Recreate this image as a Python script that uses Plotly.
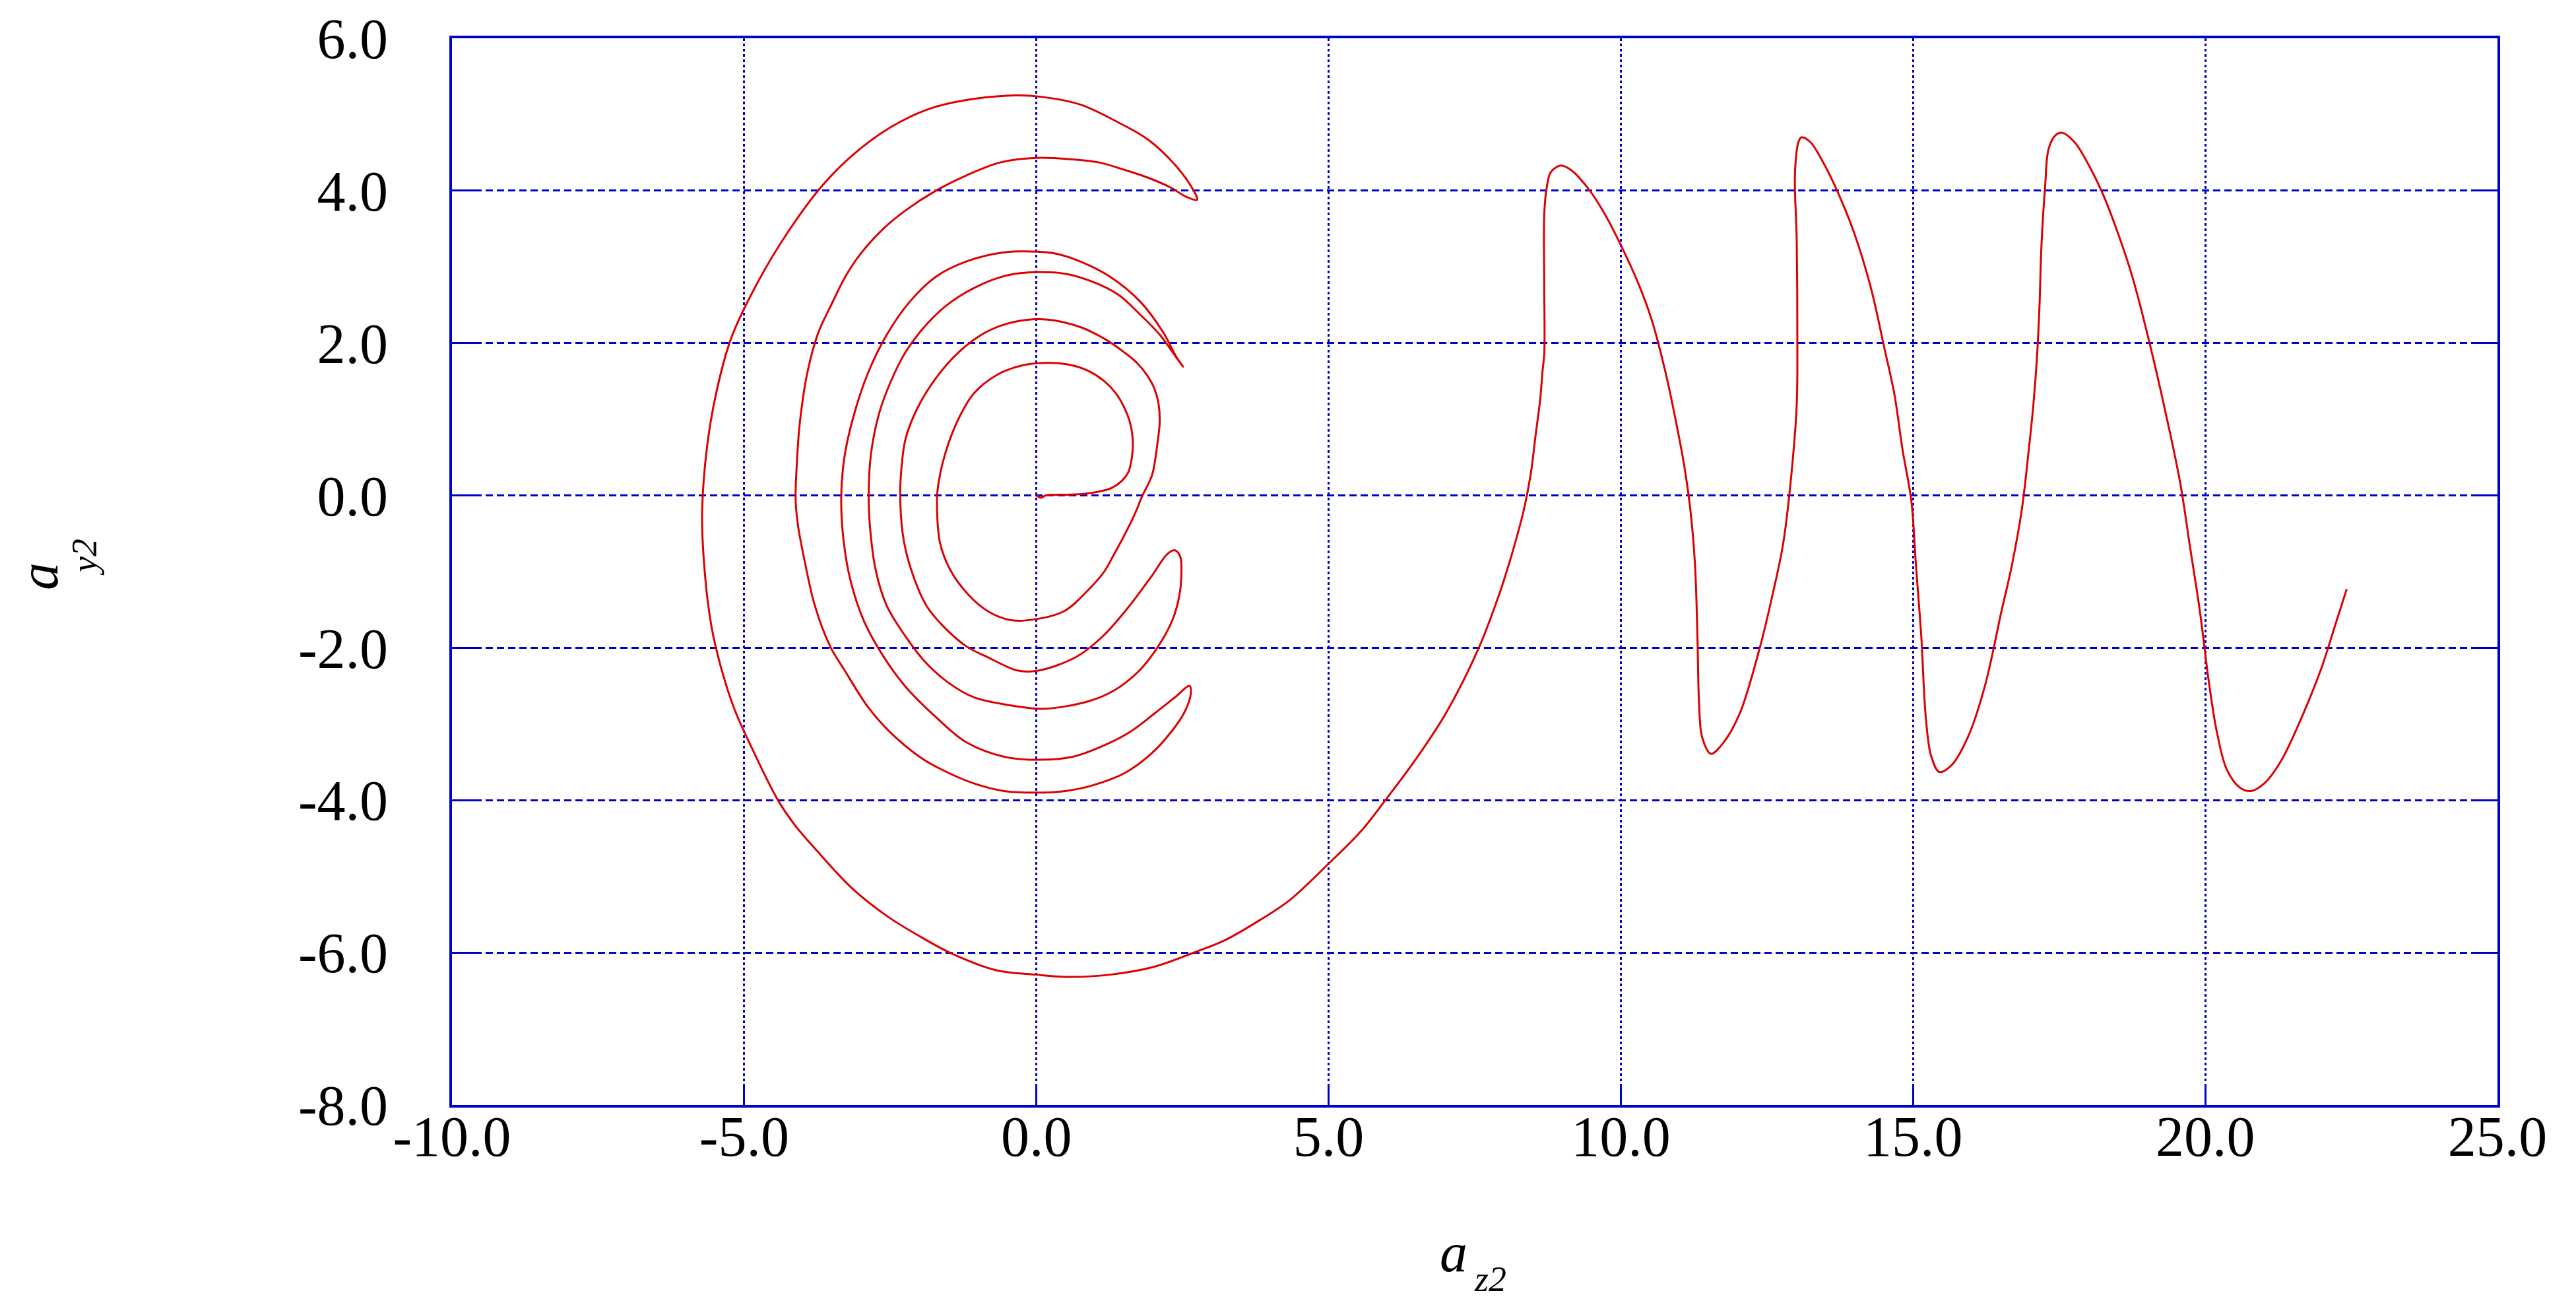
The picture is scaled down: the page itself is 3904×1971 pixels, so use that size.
import numpy as np
import plotly.graph_objects as go

# ---- data ----
# inner loop starting at origin
loop1_x = [0, 0.04, 0.08, 0.16, 0.47, 0.81, 1.07, 1.29, 1.46, 1.57, 1.63, 1.65, 1.61, 1.51, 1.36, 1.16, 0.9, 0.6, 0.23, -0.23, -0.68, -1.07, -1.33, -1.56, -1.69, -1.70, -1.65, -1.48, -1.18, -0.83, -0.48, -0.18, 0.47, 0.9, 1.16, 1.33, 1.5, 1.68, 1.81, 1.98, 2.07, 2.11, 2.09]
loop1_y = [0, -0.02, -0.03, 0, 0.01, 0.02, 0.05, 0.1, 0.19, 0.3, 0.48, 0.68, 0.93, 1.14, 1.34, 1.5, 1.63, 1.71, 1.74, 1.71, 1.58, 1.34, 1.01, 0.55, 0.08, -0.19, -0.62, -0.97, -1.29, -1.52, -1.63, -1.64, -1.52, -1.23, -1.0, -0.77, -0.53, -0.25, -0.01, 0.27, 0.68, 0.97, 1.2]
# arc with top 2.31
arc2_x = [2.02, 1.9, 1.72, 1.5, 1.2, 0.75, 0.16, -0.42, -0.87, -1.33, -1.72, -2.04, -2.24, -2.31, -2.33, -2.27, -2.11, -1.88, -1.59, -1.2, -0.87, -0.31, 0.03, 0.68, 1.12, 1.55, 1.98, 2.24, 2.37]
arc2_y = [1.4, 1.57, 1.74, 1.88, 2.04, 2.21, 2.31, 2.27, 2.14, 1.88, 1.54, 1.14, 0.74, 0.35, -0.05, -0.59, -1.05, -1.45, -1.72, -1.98, -2.11, -2.3, -2.3, -2.12, -1.86, -1.49, -1.05, -0.77, -0.72]
# arc with bottom -2.8 and top 2.93
arc3_x = [2.46, 2.48, 2.44, 2.33, 2.11, 1.76, 1.33, 0.9, 0.12, -0.4, -1.07, -1.52, -1.91, -2.24, -2.56, -2.75, -2.85, -2.87, -2.83, -2.69, -2.5, -2.24, -1.85, -1.46, -0.94, -0.49, 0, 0.49, 0.94, 1.39, 1.78, 2.11, 2.33, 2.46, 2.51]
arc3_y = [-0.8, -1.05, -1.34, -1.63, -1.95, -2.3, -2.56, -2.7, -2.8, -2.76, -2.65, -2.45, -2.18, -1.85, -1.45, -0.98, -0.39, 0.01, 0.55, 1.08, 1.48, 1.88, 2.27, 2.54, 2.77, 2.89, 2.93, 2.91, 2.81, 2.64, 2.37, 2.11, 1.88, 1.74, 1.69]
# arc with top 3.2 and bottom -3.48
arc4_x = [2.4, 2.17, 1.78, 1.26, 0.75, 0.36, 0, -0.55, -1.2, -1.72, -2.17, -2.56, -2.88, -3.14, -3.29, -3.34, -3.3, -3.18, -2.95, -2.62, -2.24, -1.72, -1.2, -0.55, 0.04, 0.62, 1.07, 1.59, 2.04, 2.37, 2.62]
arc4_y = [1.81, 2.14, 2.54, 2.87, 3.07, 3.17, 3.2, 3.19, 3.07, 2.87, 2.54, 2.11, 1.61, 1.01, 0.48, -0.05, -0.59, -1.12, -1.65, -2.11, -2.51, -2.91, -3.24, -3.43, -3.47, -3.43, -3.31, -3.11, -2.85, -2.65, -2.5]
# arc with bottom -3.9 and top 4.43
arc5_x = [2.64, 2.53, 2.3, 1.98, 1.52, 0.94, 0.49, 0, -0.55, -1.07, -1.59, -1.98, -2.5, -2.88, -3.27, -3.53, -3.79, -3.95, -4.08, -4.12, -4.1, -4.05, -3.92, -3.73, -3.53, -3.27, -3.01, -2.62, -2.24, -1.72, -1.2, -0.62, 0, 0.62, 1.07, 1.52, 1.91, 2.3, 2.56, 2.75]
arc5_y = [-2.61, -2.85, -3.11, -3.38, -3.64, -3.81, -3.88, -3.9, -3.88, -3.78, -3.61, -3.44, -3.11, -2.78, -2.31, -1.98, -1.45, -0.92, -0.39, -0.05, 0.41, 0.94, 1.61, 2.14, 2.47, 2.87, 3.17, 3.5, 3.74, 4.0, 4.2, 4.37, 4.43, 4.41, 4.37, 4.27, 4.17, 4.04, 3.92, 3.88]
# outer arc (top 5.25, bottom -6.32) rising to the right
arc6_x = [2.66, 2.37, 1.91, 1.39, 0.75, 0.1, -0.36, -1.2, -1.85, -2.5, -3.14, -3.66, -4.24, -4.76, -5.22, -5.48, -5.64, -5.72, -5.67, -5.56, -5.4, -5.17, -4.86, -4.43, -4.13, -3.76, -3.15, -2.54, -1.92, -1.43, -0.7, 0, 0.59, 1.26, 2.0, 2.73, 3.22, 3.83, 4.32, 4.99, 5.55, 5.98, 6.53, 7.02, 7.57, 7.89, 8.0, 8.17, 8.34, 8.46, 8.54, 8.62, 8.66, 8.69]
arc6_y = [4.04, 4.34, 4.67, 4.9, 5.13, 5.23, 5.25, 5.19, 5.07, 4.83, 4.47, 4.07, 3.47, 2.81, 2.07, 1.34, 0.61, -0.25, -1.05, -1.72, -2.25, -2.8, -3.33, -3.99, -4.33, -4.66, -5.16, -5.53, -5.82, -6.02, -6.23, -6.29, -6.32, -6.29, -6.19, -5.99, -5.84, -5.57, -5.32, -4.84, -4.41, -3.99, -3.42, -2.84, -2.0, -1.36, -1.11, -0.68, -0.19, 0.29, 0.78, 1.26, 1.63, 1.87]
# three peaks on the right
peaks_x = [8.69, 8.69, 8.73, 8.8, 8.97, 9.15, 9.44, 9.72, 10.01, 10.3, 10.53, 10.76, 10.93, 11.08, 11.19, 11.27, 11.31, 11.34, 11.39, 11.54, 11.74, 12.03, 12.37, 12.6, 12.78, 12.92, 13.01, 13.02, 13.01, 12.98, 13.04, 13.09, 13.24, 13.47, 13.7, 13.99, 14.28, 14.51, 14.68, 14.82, 14.97, 15.05, 15.14, 15.22, 15.31, 15.45, 15.66, 15.94, 16.23, 16.51, 16.69, 16.86, 16.98, 17.06, 17.12, 17.16, 17.2, 17.26, 17.32, 17.44, 17.55, 17.76, 18.01, 18.24, 18.53, 18.76, 19.05, 19.34, 19.57, 19.74, 19.91, 20.06, 20.2, 20.37, 20.6, 20.78, 21.01, 21.3, 21.64, 21.99, 22.22, 22.42]
peaks_y = [2.72, 3.7, 4.03, 4.24, 4.33, 4.27, 4.03, 3.7, 3.27, 2.78, 2.3, 1.63, 1.02, 0.41, -0.19, -0.92, -1.84, -2.75, -3.17, -3.39, -3.26, -2.87, -2.02, -1.29, -0.62, 0.29, 1.2, 2.12, 3.33, 4.24, 4.64, 4.7, 4.64, 4.36, 4.0, 3.45, 2.72, 1.93, 1.33, 0.6, -0.07, -0.92, -1.84, -2.93, -3.42, -3.63, -3.54, -3.17, -2.5, -1.53, -0.92, -0.19, 0.6, 1.2, 1.81, 2.42, 3.33, 4.06, 4.55, 4.73, 4.76, 4.64, 4.33, 3.97, 3.39, 2.85, 1.99, 1.02, 0.17, -0.68, -1.53, -2.44, -3.11, -3.6, -3.84, -3.88, -3.78, -3.48, -2.93, -2.26, -1.71, -1.23]

x_ticks = [-10, -5, 0, 5, 10, 15, 20, 25]
x_ticktext = ["-10.0", "-5.0", "0.0", "5.0", "10.0", "15.0", "20.0", "25.0"]
y_ticks = [-8, -6, -4, -2, 0, 2, 4, 6]
y_ticktext = ["-8.0", "-6.0", "-4.0", "-2.0", "0.0", "2.0", "4.0", "6.0"]

segments = [(loop1_x, loop1_y), (arc2_x, arc2_y), (arc3_x, arc3_y), (arc4_x, arc4_y),
            (arc5_x, arc5_y), (arc6_x, arc6_y), (peaks_x, peaks_y)]
curve_x, curve_y = [], []
for sx, sy in segments:
    assert len(sx) == len(sy)
    curve_x += sx
    curve_y += sy

BLUE = "#0000CC"
RED = "#DD0000"
FONT = "Liberation Serif"

fig = go.Figure()
fig.add_trace(go.Scatter(x=curve_x, y=curve_y, mode="lines",
                         line=dict(color=RED, width=3, shape="spline", smoothing=1.0),
                         showlegend=False, hoverinfo="skip"))

W, H = 3904, 1971
ml, mr, mt, mb = 677, 127, 50, 305
fig.update_layout(
    width=W, height=H,
    margin=dict(l=ml, r=mr, t=mt, b=mb),
    paper_bgcolor="white", plot_bgcolor="white",
    font=dict(family=FONT, color="black"),
    showlegend=False,
)
fig.update_xaxes(range=[-10, 25], tickvals=x_ticks, ticktext=x_ticktext,
                 showgrid=True, gridcolor=BLUE, gridwidth=2.5, griddash="4px,4px",
                 zeroline=False, showline=True, linecolor=BLUE, linewidth=3.5, mirror=True,
                 ticks="inside", ticklen=32, tickwidth=3, tickcolor=BLUE,
                 tickfont=dict(family=FONT, size=86, color="black"),
                 ticklabelstandoff=-30, automargin=False)
fig.update_yaxes(range=[-8, 6], tickvals=y_ticks, ticktext=y_ticktext,
                 showgrid=True, gridcolor=BLUE, gridwidth=2.5, griddash="11px,6px",
                 zeroline=False, showline=True, linecolor=BLUE, linewidth=3.5, mirror="ticks",
                 ticks="inside", ticklen=40, tickwidth=3, tickcolor=BLUE,
                 tickfont=dict(family=FONT, size=86, color="black"),
                 ticklabelstandoff=76, automargin=False)

pw, ph = W - ml - mr, H - mt - mb
def px2paper(X, Y):
    return (X - ml) / pw, (H - mb - Y) / ph

annots = []
ax, ay = px2paper(2195, 1889)
annots.append(dict(text="<i>a</i>", x=ax, y=ay, xref="paper", yref="paper",
                   showarrow=False, font=dict(family=FONT, size=84, color="black"),
                   xanchor="center", yanchor="middle"))
ax, ay = px2paper(2250, 1930)
annots.append(dict(text="<i>z2</i>", x=ax, y=ay, xref="paper", yref="paper",
                   showarrow=False, font=dict(family=FONT, size=54, color="black"),
                   xanchor="center", yanchor="middle"))
ax, ay = px2paper(50, 865)
annots.append(dict(text="<i>a</i>", x=ax, y=ay, xref="paper", yref="paper",
                   showarrow=False, textangle=-90, font=dict(family=FONT, size=84, color="black"),
                   xanchor="center", yanchor="middle"))
ax, ay = px2paper(120, 836)
annots.append(dict(text="<i>y2</i>", x=ax, y=ay, xref="paper", yref="paper",
                   showarrow=False, textangle=-90, font=dict(family=FONT, size=54, color="black"),
                   xanchor="center", yanchor="middle"))
fig.update_layout(annotations=annots)

fig.write_html("out.html")
